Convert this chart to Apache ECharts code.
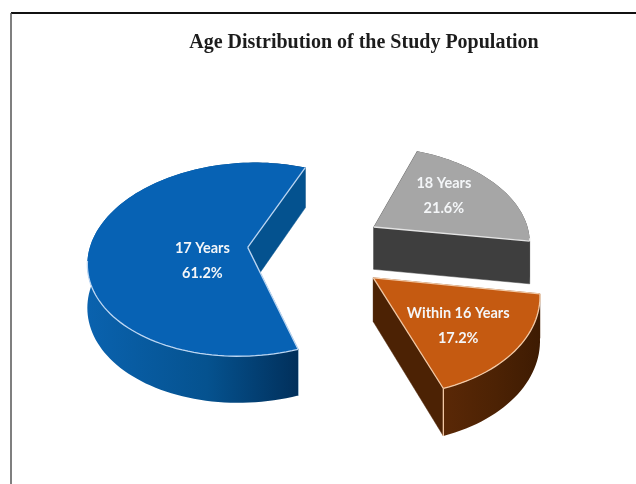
<!DOCTYPE html>
<html><head><meta charset="utf-8">
<style>html,body{margin:0;padding:0;background:#fff}#c{width:636px;height:484px}</style>
<script src="https://cdn.jsdelivr.net/npm/echarts@6/dist/echarts.min.js"></script>
</head><body><div id="c"></div>
<script>
var titleText = 'Age Distribution of the Study Population';
var categories = ['18 Years', 'Within 16 Years', '17 Years'];
var values = [21.6, 17.2, 61.2];

// styling of each slice
var explode = [0.45, 0.47, 0.42];
var labelRadius = [0.56, 0.58, 0.30];
var labelShiftX = [0, 5, 2];
var labelShiftY = [-7, 8, 14];
var topColors = ['#a6a6a6', '#c55a11', '#0762b4'];
var radialWall = ['#3e3e3e', '#4c2204', '#04528f'];
var outerWallStops = [
  ['#404040', '#3e3e3e', '#3c3c3c'],
  ['#5a2806', '#4c2204', '#3e1b02'],
  ['#0a62ae', '#05528f', '#012d57']
];
var edgeColors = ['#e4e4e4', '#f2c9a6', '#bcd6f2'];
var edgeStart = [false, true, true];

var startAngle = 21, tilt = 0.124;
var pieCx = 314, pieCy = 248, radX = 158, radY = 95.5, depth = 43;

function project(u, v, drop) {
  var w = 1 - tilt * v;
  return [pieCx + radX * u / w, pieCy + radY * v / w + (drop ? depth * Math.pow(w, -0.6) : 0)];
}
function rad(d) { return d * Math.PI / 180; }
function sliceAngles(i) {
  var total = values.reduce(function (a, b) { return a + b; }, 0), acc = 0;
  for (var j = 0; j < i; j++) acc += values[j];
  var a0 = startAngle + acc / total * 360;
  return [a0, a0 + values[i] / total * 360];
}

function renderSlice(params, api) {
  var i = params.dataIndex;
  var ang = sliceAngles(i), a0 = ang[0], a1 = ang[1], mid = (a0 + a1) / 2;
  var ox = explode[i] * Math.sin(rad(mid)), oy = -explode[i] * Math.cos(rad(mid));
  function pt(a, r, drop) { return project(ox + r * Math.sin(rad(a)), oy - r * Math.cos(rad(a)), drop); }
  function arc(from, to, drop) {
    var out = [], n = Math.ceil(Math.abs(to - from) / 2);
    for (var s = 0; s <= n; s++) out.push(pt(from + (to - from) * s / n, 1, drop));
    return out;
  }
  var kids = [];
  function wall(a, fill) {
    kids.push({ type: 'polygon', shape: { points: [pt(a, 0, false), pt(a, 1, false), pt(a, 1, true), pt(a, 0, true)] },
      style: { fill: fill, stroke: fill, lineWidth: 0.5 } });
  }
  wall(a0, radialWall[i]);
  kids.push({ type: 'polygon', shape: { points: arc(a0, a1, false).concat(arc(a1, a0, true)) },
    style: { fill: { type: 'linear', x: 0, y: 0, x2: 1, y2: 0, colorStops: [
      { offset: 0, color: outerWallStops[i][0] },
      { offset: 0.55, color: outerWallStops[i][1] },
      { offset: 1, color: outerWallStops[i][2] } ] } } });
  wall(a1, radialWall[i]);
  kids.push({ type: 'polygon', shape: { points: [pt(a0, 0, false)].concat(arc(a0, a1, false)) },
    style: { fill: topColors[i] } });
  // light bevel on the edges that face the viewer
  function edge(points) {
    kids.push({ type: 'polyline', shape: { points: points },
      style: { fill: null, stroke: edgeColors[i], lineWidth: 1.3 } });
  }
  if (edgeStart[i]) edge([pt(a0, 0, false), pt(a0, 1, false)]);
  edge([pt(a1, 0, false), pt(a1, 1, false)]);
  var f0 = Math.max(a0, 97), f1 = Math.min(a1, 262);
  if (f1 > f0) edge(arc(f0, f1, false));
  if (i === 1) edge([pt(a1, 1, false), pt(a1, 1, true)]);

  var lp = pt(mid, labelRadius[i], false);
  kids.push({ type: 'text', style: {
    x: lp[0] + labelShiftX[i], y: lp[1] + labelShiftY[i], text: categories[i] + '\n' + api.value(0).toFixed(1) + '%',
    fill: '#f4f6f8', font: 'bold 14.5px Lato', align: 'center', verticalAlign: 'middle', lineHeight: 25 } });
  return { type: 'group', children: kids };
}

var chart = echarts.init(document.getElementById('c'));
chart.setOption({
  animation: false,
  backgroundColor: '#ffffff',
  title: { text: titleText, left: 359, top: 28, textAlign: 'center',
    textStyle: { fontFamily: 'Liberation Serif', fontWeight: 'bold', fontSize: 20, color: '#1c1c1c' } },
  graphic: [
    { type: 'line', shape: { x1: 11, y1: 13, x2: 636, y2: 13 }, style: { stroke: '#111', lineWidth: 2 } },
    { type: 'line', shape: { x1: 11, y1: 13, x2: 11, y2: 484 }, style: { stroke: '#555', lineWidth: 1.5 } }
  ],
  series: [{ type: 'custom', coordinateSystem: 'none', silent: true, renderItem: renderSlice,
    data: values.map(function (v, i) { return { name: categories[i], value: [v] }; }) }]
});
</script></body></html>
